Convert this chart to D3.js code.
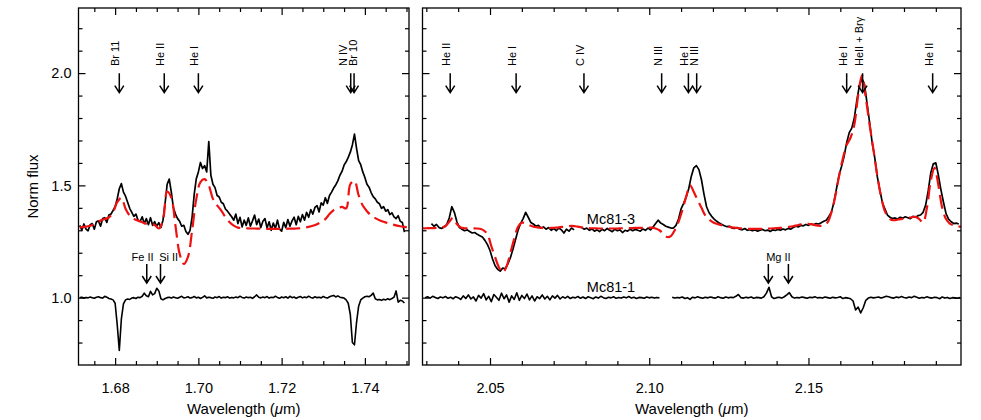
<!DOCTYPE html>
<html>
<head>
<meta charset="utf-8">
<script src="https://cdn.jsdelivr.net/npm/d3@7"></script>
<style>
  body { margin: 0; background: #fff; }
</style>
</head>
<body>
<svg width="981" height="420"></svg>
<script>
// H band (left panel): observed spectra on a regular grid
const hStart = 1.6715, hStep = 0.0005;
const hMc81_3 = [
  1.322,1.300,1.328,1.305,1.298,1.325,1.330,1.305,1.338,1.342,
  1.318,1.352,1.356,1.335,1.368,1.372,1.388,1.405,1.440,1.485,
  1.508,1.470,1.452,1.425,1.398,1.380,1.362,1.372,1.345,1.340,
  1.360,1.330,1.352,1.325,1.356,1.322,1.338,1.318,1.334,1.312,
  1.345,1.420,1.505,1.528,1.470,1.400,1.372,1.352,1.340,1.318,
  1.322,1.295,1.282,1.300,1.360,1.460,1.530,1.560,1.602,1.575,
  1.588,1.560,1.695,1.545,1.505,1.490,1.455,1.448,1.425,1.418,
  1.395,1.385,1.372,1.360,1.345,1.372,1.330,1.358,1.315,1.345,
  1.322,1.355,1.318,1.342,1.368,1.325,1.350,1.312,1.340,1.352,
  1.310,1.338,1.300,1.332,1.308,1.345,1.305,1.296,1.335,1.312,
  1.348,1.318,1.342,1.358,1.325,1.362,1.338,1.370,1.345,1.380,
  1.358,1.392,1.372,1.402,1.410,1.382,1.422,1.412,1.445,1.420,
  1.455,1.470,1.488,1.502,1.520,1.545,1.562,1.590,1.605,1.625,
  1.648,1.680,1.728,1.665,1.610,1.592,1.560,1.535,1.505,1.492,
  1.468,1.450,1.440,1.425,1.418,1.398,1.405,1.385,1.392,1.370,
  1.378,1.360,1.352,1.365,1.340,1.335,1.292
];
const hMc81_1 = [
  1.000,1.002,0.998,1.001,0.999,1.003,1.000,0.997,1.002,1.004,
  1.000,0.998,1.006,1.002,0.996,0.994,0.990,0.975,0.880,0.765,
  0.905,0.972,0.990,0.994,0.992,0.998,1.000,0.996,1.002,1.000,
  1.006,1.020,1.008,1.004,1.028,1.012,1.018,1.042,1.030,0.995,
  0.990,0.996,1.000,1.002,0.998,1.003,1.000,0.997,1.002,1.006,
  0.999,1.001,1.004,0.998,1.000,1.005,0.999,1.002,0.996,1.001,
  1.008,0.999,1.002,1.000,0.997,1.003,1.000,1.005,0.998,1.002,
  1.000,1.004,0.998,1.001,0.999,1.003,1.000,1.006,1.001,0.998,
  1.003,1.000,1.002,0.997,1.004,1.012,1.002,0.999,1.003,1.000,
  1.005,0.998,1.002,1.000,1.006,1.001,0.997,1.003,1.000,1.004,
  0.998,1.006,1.000,1.003,0.997,1.002,1.005,0.999,1.003,1.000,
  1.006,1.001,0.998,1.004,1.000,1.002,0.999,1.005,1.001,0.998,
  1.004,1.007,1.010,1.003,1.008,1.002,1.000,0.998,0.990,0.975,
  0.925,0.800,0.790,0.890,0.962,0.990,0.998,1.004,1.006,1.004,
  1.010,1.020,0.995,0.990,0.992,0.988,0.993,0.990,0.995,0.991,
  0.996,1.002,1.030,0.980,0.988,0.985,0.976
];
// H band model (red dashed)
const hModelStart = 1.6715, hModelStep = 0.001;
const hModel = [
  1.313,1.315,1.318,1.324,1.334,1.343,1.350,1.357,1.380,1.425,
  1.445,1.396,1.366,1.351,1.343,1.336,1.329,1.327,1.324,1.308,
  1.345,1.472,1.445,1.320,1.195,1.150,1.182,1.300,1.440,1.515,
  1.528,1.500,1.440,1.411,1.388,1.358,1.336,1.321,1.312,1.310,
  1.309,1.308,1.308,1.307,1.307,1.306,1.306,1.306,1.306,1.306,
  1.307,1.307,1.308,1.309,1.311,1.315,1.320,1.327,1.338,1.350,
  1.372,1.390,1.398,1.404,1.398,1.505,1.520,1.456,1.410,1.385,
  1.366,1.354,1.345,1.338,1.332,1.327,1.322,1.318,1.315,1.312
];

// K band (right panel)
const kStart = 2.0316, kStep = 0.0008;
const kMc81_3 = [
  1.330,1.318,1.326,1.312,1.308,1.316,1.325,1.355,1.405,1.380,
  1.338,1.312,1.305,1.298,1.302,1.295,1.288,1.290,1.282,1.276,
  1.270,1.255,1.236,1.210,1.172,1.142,1.126,1.118,1.132,1.128,
  1.150,1.178,1.215,1.258,1.300,1.330,1.352,1.380,1.358,1.335,
  1.328,1.318,1.322,1.310,1.315,1.305,1.312,1.300,1.308,1.298,
  1.310,1.302,1.288,1.305,1.296,1.310,1.302,null,null,1.312,
  1.305,1.310,1.300,1.306,1.296,1.302,1.294,1.305,1.298,1.308,
  1.300,1.294,1.305,1.298,1.302,1.290,1.300,1.296,1.305,1.298,
  1.304,1.300,1.296,1.306,1.300,1.310,1.302,1.315,1.330,1.345,
  1.332,1.326,1.318,1.314,1.310,1.310,1.322,1.350,1.395,1.420,
  1.448,1.485,1.540,1.578,1.588,1.570,1.525,1.460,1.405,1.378,
  1.362,1.350,1.340,1.332,1.326,1.320,1.316,1.318,1.310,1.308,
  1.312,1.305,1.302,1.308,1.300,1.303,1.298,1.302,1.296,1.300,
  1.304,1.298,1.301,1.295,1.302,1.299,1.304,1.300,1.306,1.302,
  1.308,1.305,1.312,1.318,1.315,1.322,1.320,1.326,1.322,1.328,
  1.325,1.330,1.328,1.334,1.340,1.345,1.362,1.381,1.425,1.485,
  1.545,1.585,1.630,1.690,1.735,1.755,1.800,1.880,1.945,1.975,
  1.950,1.865,1.780,1.690,1.625,1.540,1.480,1.425,1.395,1.368,
  1.358,1.352,1.355,1.350,1.358,1.354,1.360,1.356,1.352,1.362,
  1.358,1.365,1.368,1.380,1.412,1.475,1.555,1.596,1.600,1.545,
  1.480,1.425,1.374,1.350,1.338,1.330,1.332,1.328
];
const kRefStart = 2.0296;
const kMc81_1 = [
  1.000,1.004,0.998,1.006,1.001,0.996,1.003,0.999,1.005,0.997,
  1.002,0.995,1.004,1.000,0.992,1.008,0.996,1.012,0.994,1.003,
  0.985,1.010,0.998,1.018,0.990,1.006,0.982,1.014,1.002,0.988,
  1.020,0.995,1.012,0.980,1.008,0.992,1.022,0.988,1.010,0.996,
  1.016,0.990,1.008,0.985,1.004,0.996,1.012,0.994,1.006,0.990,
  1.008,0.998,1.010,0.994,1.004,0.998,1.006,0.996,1.002,0.999,
  1.005,0.997,1.003,0.996,1.004,1.000,0.995,1.003,0.998,1.006,
  1.000,0.996,1.002,0.999,1.004,0.997,1.001,0.998,1.003,0.999,
  1.005,0.998,1.002,0.996,1.001,1.000,0.997,1.003,0.999,1.002,
  0.998,1.001,0.999,null,null,null,null,1.002,0.998,1.001,
  0.999,1.003,0.996,1.000,0.992,1.002,0.999,1.004,1.000,0.997,
  1.002,0.999,1.003,1.000,0.998,1.004,1.000,0.997,1.003,0.999,
  1.002,1.000,1.006,1.014,1.000,0.998,1.002,0.999,1.003,0.997,
  1.001,1.000,0.998,1.004,1.020,1.046,1.004,0.996,1.000,1.002,
  0.998,1.004,1.012,1.022,1.004,0.998,1.001,0.999,1.003,1.000,
  0.997,1.002,1.000,1.004,0.999,1.001,0.998,1.003,1.000,0.997,
  1.002,0.999,1.001,1.004,0.996,1.000,0.998,0.995,0.985,0.945,
  0.958,0.932,0.955,0.988,0.998,1.002,0.999,1.001,1.003,0.998,
  1.002,1.006,1.004,1.000,0.998,1.003,1.000,1.005,1.001,0.998,
  1.003,1.000,1.006,1.002,0.997,1.001,0.999,1.004,1.000,0.998,
  1.002,1.000,0.995,1.003,0.998,1.001,0.996,1.000,0.999,0.997,
  1.001
];
const kModelStart = 2.0288, kModelStep = 0.0012;
const kModel = [
  1.309,1.309,1.310,1.310,1.311,1.312,1.318,1.338,1.355,1.328,
  1.312,1.309,1.309,1.309,1.308,1.307,1.300,1.282,1.230,1.180,
  1.135,1.112,1.140,1.200,1.262,1.315,1.334,1.330,1.322,1.316,
  1.313,1.311,1.310,1.310,1.311,1.312,1.314,1.316,1.318,1.320,
  1.318,1.315,1.312,1.310,1.309,1.309,1.308,1.308,1.308,1.308,
  1.308,1.308,1.309,1.309,1.310,1.310,1.311,1.311,1.311,1.311,
  1.312,1.308,1.300,1.285,1.270,1.274,1.300,1.338,1.390,1.450,
  1.500,1.471,1.434,1.400,1.366,1.348,1.336,1.329,1.324,1.321,
  1.316,1.313,1.311,1.309,1.307,1.306,1.306,1.306,1.306,1.307,
  1.307,1.308,1.309,1.310,1.311,1.313,1.315,1.318,1.322,1.326,
  1.329,1.329,1.326,1.322,1.320,1.322,1.335,1.380,1.450,1.540,
  1.620,1.680,1.712,1.770,1.900,1.990,1.890,1.770,1.660,1.545,
  1.450,1.385,1.355,1.345,1.346,1.350,1.352,1.355,1.358,1.360,
  1.350,1.335,1.400,1.520,1.578,1.500,1.400,1.350,1.330,1.322,
  1.318,1.316
];

// line identifications
const hLineNames = ["Br 11", "He II", "He I", "N IV", "Br 10"];
const hLineWaves = [1.6810, 1.6918, 1.7000, 1.7366, 1.7374];
const kLineNames = ["He II", "He I", "C IV", "N III", "He I", "N III", "He I", "HeII + Brγ", "He II"];
const kLineWaves = [2.0375, 2.0582, 2.0795, 2.1039, 2.1123, 2.1149, 2.1620, 2.1670, 2.1890];
const hLowNames = ["Fe II", "Si II"];
const hLowWaves = [[1.6876], [1.6909]];
const kLowNames = ["Mg II"];
const kLowWaves = [[2.1374, 2.1437]];

// axis ticks
const hTicks = [1.68, 1.70, 1.72, 1.74];
const kTicks = [2.05, 2.10, 2.15];
const yTicks = [1.0, 1.5, 2.0];

const svg = d3.select("svg");
const font = "'Liberation Sans', Arial, Helvetica, sans-serif";
const plotTop = 8, plotBottom = 365;

const yScale = d3.scaleLinear().domain([0.7, 2.29]).range([plotBottom, plotTop]);

const toPoints = (vals, start, step) => vals.map((v, i) => ({ wl: start + i * step, flux: v }));

const panels = [
  {
    id: "h",
    xScale: d3.scaleLinear().domain([1.6712, 1.7506]).range([78.5, 409]),
    major: hTicks, minorStep: 0.005, showY: true,
    obs: toPoints(hMc81_3, hStart, hStep),
    ref: toPoints(hMc81_1, hStart, hStep),
    model: toPoints(hModel, hModelStart, hModelStep),
    names: hLineNames, waves: hLineWaves,
    lowNames: hLowNames, lowWaves: hLowWaves
  },
  {
    id: "k",
    xScale: d3.scaleLinear().domain([2.0288, 2.1979]).range([422.5, 961]),
    major: kTicks, minorStep: 0.01, showY: false,
    obs: toPoints(kMc81_3, kStart, kStep),
    ref: toPoints(kMc81_1, kRefStart, kStep),
    model: toPoints(kModel, kModelStart, kModelStep),
    names: kLineNames, waves: kLineWaves,
    lowNames: kLowNames, lowWaves: kLowWaves
  }
];

const notMajor = (majors) => (v) => !majors.some((m) => Math.abs(m - v) < 1e-6);
const yMinor = d3.range(0.8, 2.25, 0.1).filter(notMajor(yTicks));

function styleAxis(a) {
  a.select(".domain").remove();
  a.selectAll("line").attr("stroke", "#000").attr("stroke-width", 1.2);
  a.selectAll("text").attr("font-size", 14.5).attr("font-family", font).attr("fill", "#000");
}

function arrow(g, x, y0, y1) {
  g.append("path")
    .attr("d", `M${x},${y0}V${y1}M${x - 4.5},${y1 - 7}L${x},${y1}L${x + 4.5},${y1 - 7}`)
    .attr("fill", "none").attr("stroke", "#000").attr("stroke-width", 1.5);
}

panels.forEach((p) => {
  const x = p.xScale;
  const [x0, x1] = x.range();
  const g = svg.append("g");

  const [d0, d1] = x.domain();
  const xMinor = d3.range(Math.ceil(d0 / p.minorStep) * p.minorStep, d1, p.minorStep).filter(notMajor(p.major));

  // axes, ticks pointing inwards on all four sides
  const fmtX = d3.format(".2f");
  styleAxis(g.append("g").attr("transform", `translate(0,${plotBottom})`)
    .call(d3.axisBottom(x).tickValues(p.major).tickSizeInner(-7).tickSizeOuter(0).tickPadding(18).tickFormat(fmtX)));
  styleAxis(g.append("g").attr("transform", `translate(0,${plotBottom})`)
    .call(d3.axisBottom(x).tickValues(xMinor).tickSize(-4).tickFormat("")));
  styleAxis(g.append("g").attr("transform", `translate(0,${plotTop})`)
    .call(d3.axisTop(x).tickValues(p.major).tickSize(-7).tickFormat("")));
  styleAxis(g.append("g").attr("transform", `translate(0,${plotTop})`)
    .call(d3.axisTop(x).tickValues(xMinor).tickSize(-4).tickFormat("")));
  styleAxis(g.append("g").attr("transform", `translate(${x0},0)`)
    .call(d3.axisLeft(yScale).tickValues(yTicks).tickSizeInner(-7).tickSizeOuter(0).tickPadding(7)
      .tickFormat(p.showY ? d3.format(".1f") : "")));
  styleAxis(g.append("g").attr("transform", `translate(${x0},0)`)
    .call(d3.axisLeft(yScale).tickValues(yMinor).tickSize(-4).tickFormat("")));
  styleAxis(g.append("g").attr("transform", `translate(${x1},0)`)
    .call(d3.axisRight(yScale).tickValues(yTicks).tickSize(-7).tickFormat("")));
  styleAxis(g.append("g").attr("transform", `translate(${x1},0)`)
    .call(d3.axisRight(yScale).tickValues(yMinor).tickSize(-4).tickFormat("")));

  // spectra
  svg.append("clipPath").attr("id", "clip-" + p.id)
    .append("rect").attr("x", x0).attr("y", plotTop).attr("width", x1 - x0).attr("height", plotBottom - plotTop);
  const plot = g.append("g").attr("clip-path", `url(#clip-${p.id})`);

  const line = d3.line()
    .defined((d) => d.flux != null)
    .x((d) => x(d.wl))
    .y((d) => yScale(d.flux));

  plot.append("path").datum(p.ref).attr("d", line)
    .attr("fill", "none").attr("stroke", "#000").attr("stroke-width", 1.6).attr("stroke-linejoin", "round");
  plot.append("path").datum(p.obs).attr("d", line)
    .attr("fill", "none").attr("stroke", "#000").attr("stroke-width", 1.7).attr("stroke-linejoin", "round");
  plot.append("path").datum(p.model).attr("d", line.curve(d3.curveCatmullRom))
    .attr("fill", "none").attr("stroke", "#ee1111").attr("stroke-width", 2.2).attr("stroke-dasharray", "14,6");

  // frame
  g.append("rect").attr("x", x0).attr("y", plotTop).attr("width", x1 - x0).attr("height", plotBottom - plotTop)
    .attr("fill", "none").attr("stroke", "#000").attr("stroke-width", 1.3);

  // line identifications above the spectrum
  const ax = p.waves.map((w) => x(w));
  const lx = ax.slice();
  for (let i = 1; i < lx.length; i++) {
    if (ax[i] - ax[i - 1] < 10) {
      const mid = (ax[i] + ax[i - 1]) / 2;
      lx[i - 1] = mid - 5;
      lx[i] = mid + 5;
    }
  }
  p.names.forEach((name, i) => {
    arrow(g, ax[i], 73.3, 92.7);
    g.append("text")
      .attr("transform", `translate(${lx[i]},66) rotate(-90)`)
      .attr("font-size", 11).attr("font-family", font)
      .text(name);
  });

  // identifications for the comparison star
  const groups = p.lowNames.map((name, i) => ({ name, xs: p.lowWaves[i].map((w) => x(w)) }));
  groups.forEach((gr, i) => {
    gr.xs.forEach((xx) => arrow(g, xx, 264, 283));
    let tx = d3.mean(gr.xs), anchor = "middle";
    const prev = groups[i - 1], next = groups[i + 1];
    if (gr.xs.length === 1 && next && next.xs[0] - gr.xs[0] < 25) {
      tx = (gr.xs[0] + next.xs[0]) / 2; anchor = "end";
    } else if (gr.xs.length === 1 && prev && gr.xs[0] - prev.xs[0] < 25) {
      tx = (gr.xs[0] + prev.xs[0]) / 2 + 5.5; anchor = "start";
    }
    g.append("text").attr("x", tx).attr("y", 261)
      .attr("text-anchor", anchor)
      .attr("font-size", 11).attr("font-family", font)
      .text(gr.name);
  });

  // x axis title
  const title = g.append("text")
    .attr("x", (x0 + x1) / 2).attr("y", 413.5)
    .attr("text-anchor", "middle").attr("font-size", 15).attr("font-family", font);
  title.append("tspan").text("Wavelength (");
  title.append("tspan").attr("font-style", "italic").text("μ");
  title.append("tspan").text("m)");
});

// star names in the K band panel
const kx = panels[1].xScale;
svg.append("text").attr("x", kx(2.0804)).attr("y", yScale(1.326))
  .attr("font-size", 14.5).attr("font-family", font).text("Mc81-3");
svg.append("text").attr("x", kx(2.0804)).attr("y", yScale(1.0265))
  .attr("font-size", 14.5).attr("font-family", font).text("Mc81-1");

// y axis title
svg.append("text")
  .attr("transform", "translate(38,186.5) rotate(-90)")
  .attr("text-anchor", "middle").attr("font-size", 15).attr("font-family", font)
  .text("Norm flux");
</script>
</body>
</html>
